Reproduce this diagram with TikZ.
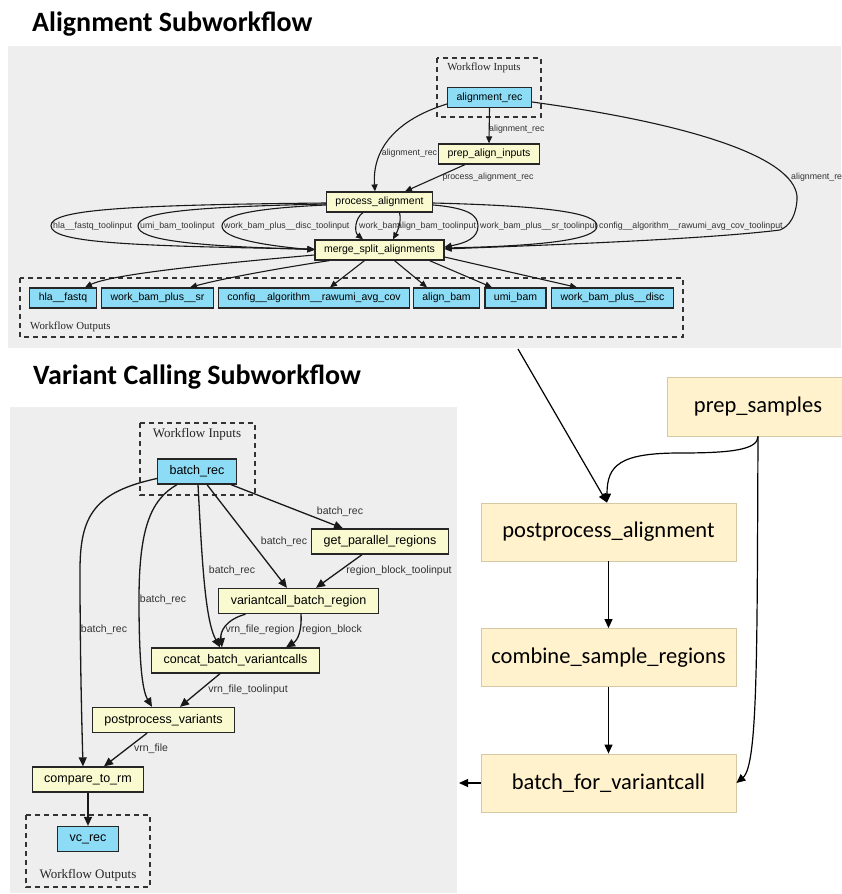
\documentclass[tikz,border=0pt]{standalone}
\usepackage{fontspec}
\usetikzlibrary{arrows.meta}
\newfontfamily\graphfont{Liberation Sans}
\newfontfamily\clusterfont{Liberation Serif}
\newfontfamily\officefont{Carlito}
\definecolor{panelgray}{RGB}{238,238,238}
\definecolor{nodeblue}{RGB}{140,220,245}
\definecolor{nodeyellow}{RGB}{250,250,208}
\definecolor{stagefill}{RGB}{255,242,204}
\definecolor{stageline}{RGB}{214,200,162}
\tikzset{
	wfnode/.style={draw=black!85, line width=1.2pt, inner ysep=0pt, font=\graphfont\fontsize{10.5}{12}\selectfont, inner xsep=9pt, minimum height=20pt},
	wfin/.style={wfnode, fill=nodeblue},
	wfstep/.style={wfnode, fill=nodeyellow},
	vcnode/.style={wfnode, font=\graphfont\fontsize{12.5}{14}\selectfont, inner xsep=12pt, minimum height=25pt, line width=1.3pt},
	vcin/.style={vcnode, fill=nodeblue},
	vcstep/.style={vcnode, fill=nodeyellow},
	cluster/.style={draw=black!80, line width=1.2pt, dash pattern=on 5pt off 4pt},
	clustertext/.style={font=\clusterfont\fontsize{10.8}{12}\selectfont, inner sep=0pt, text=black!85},
	elabel/.style={font=\graphfont\fontsize{8.8}{10}\selectfont, inner sep=0pt, text=black!80},
	vlabel/.style={font=\graphfont\fontsize{10.5}{12}\selectfont, inner sep=0pt, text=black!80},
	edge/.style={line width=1.1pt, draw=black!90, -{Triangle[length=7pt,width=6pt]}},
	vedge/.style={line width=1.3pt, draw=black!90, -{Triangle[length=9pt,width=8pt]}},
	stage/.style={draw=stageline, line width=0.8pt, fill=stagefill, minimum width=255pt, minimum height=58pt, font=\officefont\fontsize{22.5}{26}\selectfont},
	flow/.style={line width=1.2pt, -{Triangle[length=9pt,width=8pt]}},
	heading/.style={font=\officefont\bfseries\fontsize{28}{32}\selectfont, inner sep=0pt, anchor=base west}
}
\begin{document}
\begin{tikzpicture}[x=1pt, y=-1pt]
	\useasboundingbox (0,0) rectangle (841,894);
	% panels
	\fill[panelgray] (8,46) rectangle (841,348);
	\fill[panelgray] (10,407) rectangle (457,893);
	\node[heading] (titleAlign) at (32,31) {Alignment Subworkflow};
	\node[heading] (titleVc) at (33,384) {Variant Calling Subworkflow};

	% alignment subworkflow: nodes
	\draw[cluster] (437,58) rectangle (541,117);
	\draw[cluster] (20,278) rectangle (683,337);
	\node[clustertext] (alignInputs) at (484,68) {Workflow Inputs};
	\node[clustertext, anchor=west] (alignOutputs) at (30,327) {Workflow Outputs};
	\node[wfin] (ar) at (489.5,97.5) {alignment\_rec};
	\node[wfstep] (pai) at (489,154) {prep\_align\_inputs};
	\node[wfstep] (pa) at (379.5,202) {process\_alignment};
	\node[wfstep] (msa) at (379.5,250) {merge\_split\_alignments};
	\node[wfin] (ohla) at (63,298) {hla\_\_fastq};
	\node[wfin] (osr) at (157.5,298) {work\_bam\_plus\_\_sr};
	\node[wfin] (ocfg) at (314,298) {config\_\_algorithm\_\_rawumi\_avg\_cov};
	\node[wfin] (oab) at (446.5,298) {align\_bam};
	\node[wfin] (oumi) at (515.5,298) {umi\_bam};
	\node[wfin] (odisc) at (612.5,298) {work\_bam\_plus\_\_disc};

	% alignment subworkflow: edges
	\draw[edge] (ar.south) -- (pai.north);
	\draw[edge] ([yshift=-6.5pt]ar.west) .. controls (395,120) and (372,150) .. ([xshift=-4.5pt]pa.north);
	\draw[edge] ([xshift=-24pt]pai.south) -- ([xshift=25.5pt]pa.north);
	\draw[edge] ([yshift=-4.5pt]ar.east) .. controls (700,125) and (800,160) .. (797,200) .. controls (796,215) and (790,226) .. (780,230) .. controls (700,240) and (520,246) .. ([yshift=1pt]msa.east);
	\draw[edge] ([yshift=-1pt]pa.west) .. controls (120,205) and (50,210) .. (51,226) .. controls (52,242) and (120,246) .. ([yshift=1pt]msa.west);
	\draw[edge] ([yshift=-2pt]pa.west) .. controls (190,207) and (138,212) .. (138,226) .. controls (138,240) and (190,246) .. ([yshift=0.5pt]msa.west);
	\draw[edge] ([yshift=-3pt]pa.west) .. controls (260,208) and (222,214) .. (222,226) .. controls (222,238) and (260,245) .. (msa.west);
	\draw[edge] ([xshift=-16.5pt]pa.south) .. controls (355,218) and (354,232) .. ([xshift=-16.5pt]msa.north);
	\draw[edge] ([xshift=20pt]pa.south) .. controls (402,222) and (397,232) .. ([xshift=13.5pt]msa.north);
	\draw[edge] ([yshift=-3pt]pa.east) .. controls (468,208) and (478,215) .. (478,226) .. controls (478,238) and (466,243) .. ([yshift=3pt]msa.east);
	\draw[edge] ([yshift=-1pt]pa.east) .. controls (550,206) and (597,213) .. (597,226) .. controls (597,240) and (540,246) .. ([yshift=2pt]msa.east);
	\draw[edge] ([yshift=-5pt]msa.west) .. controls (200,265) and (110,275) .. ([xshift=22pt]ohla.north);
	\draw[edge] ([xshift=-50pt]msa.south) .. controls (280,268) and (220,279) .. ([xshift=32.5pt]osr.north);
	\draw[edge] ([xshift=-15pt]msa.south) -- ([xshift=16pt]ocfg.north);
	\draw[edge] ([xshift=15pt]msa.south) -- ([xshift=-19.5pt]oab.north);
	\draw[edge] ([xshift=50pt]msa.south) -- ([xshift=-23.5pt]oumi.north);
	\draw[edge] ([yshift=-7pt]msa.east) -- ([xshift=-35.5pt]odisc.north);
	% alignment subworkflow: edge labels
	\node[elabel, anchor=west] (lArPai) at (489,129) {alignment\_rec};
	\node[elabel] (lArPa) at (409.5,153) {alignment\_rec};
	\node[elabel] (lPaiPa) at (488,177) {process\_alignment\_rec};
	\node[elabel, anchor=west] (lArMsa) at (791,177) {alignment\_rec};
	\node[elabel, anchor=west] (lHla) at (53,226) {hla\_\_fastq\_toolinput};
	\node[elabel, anchor=west] (lUmi) at (140,226) {umi\_bam\_toolinput};
	\node[elabel, anchor=west] (lDisc) at (224,226) {work\_bam\_plus\_\_disc\_toolinput};
	\node[elabel, anchor=west] (lWork) at (359,226) {work\_bam};
	\node[elabel, anchor=west] (lAlign) at (397,226) {align\_bam\_toolinput};
	\node[elabel, anchor=west] (lSr) at (480,226) {work\_bam\_plus\_\_sr\_toolinput};
	\node[elabel, anchor=west] (lCfg) at (599,226) {config\_\_algorithm\_\_rawumi\_avg\_cov\_toolinput};

	% variant calling subworkflow: nodes
	\draw[cluster] (140,423) rectangle (255,495);
	\draw[cluster] (26,815) rectangle (150,887);
	\node[clustertext, font=\clusterfont\fontsize{13}{15}\selectfont] (vcInputs) at (197,434) {Workflow Inputs};
	\node[clustertext, font=\clusterfont\fontsize{13}{15}\selectfont] (vcOutputs) at (88,875) {Workflow Outputs};
	\node[vcin] (br) at (197,471.5) {batch\_rec};
	\node[vcstep] (gpr) at (380,541.5) {get\_parallel\_regions};
	\node[vcstep] (vbr) at (298.5,601) {variantcall\_batch\_region};
	\node[vcstep] (cbv) at (235.5,660.5) {concat\_batch\_variantcalls};
	\node[vcstep] (ppv) at (163.5,720) {postprocess\_variants};
	\node[vcstep] (ctr) at (88,779.5) {compare\_to\_rm};
	\node[vcin] (vcr) at (88,839) {vc\_rec};

	% variant calling subworkflow: edges
	\draw[vedge] ([xshift=34pt]br.south) -- ([xshift=-37pt]gpr.north);
	\draw[vedge] ([xshift=10pt]br.south) -- ([xshift=-11.5pt]vbr.north);
	\draw[vedge] ([xshift=1pt]br.south) .. controls (202,560) and (205,620) .. ([xshift=-15.5pt]cbv.north);
	\draw[vedge] ([xshift=-20pt]br.south) .. controls (150,500) and (139,530) .. (139,600) .. controls (139,660) and (142,690) .. ([xshift=-11.5pt]ppv.north);
	\draw[vedge] ([yshift=-7pt]br.west) .. controls (95,492) and (80,515) .. (80,570) .. controls (80,660) and (82,730) .. ([xshift=-5pt]ctr.north);
	\draw[vedge] ([xshift=-18pt]gpr.south) -- ([xshift=17.5pt]vbr.north);
	\draw[vedge] ([xshift=-53pt]vbr.south) .. controls (225,620) and (220,632) .. ([xshift=-13.5pt]cbv.north);
	\draw[vedge] ([xshift=2.5pt]vbr.south) .. controls (302,630) and (298,640) .. ([xshift=50.5pt]cbv.north);
	\draw[vedge] ([xshift=-15.5pt]cbv.south) -- ([xshift=16.5pt]ppv.north);
	\draw[vedge] ([xshift=-16.5pt]ppv.south) -- ([xshift=16pt]ctr.north);
	\draw[vedge] (ctr.south) -- (vcr.north);
	% variant calling subworkflow: edge labels
	\node[vlabel] (lBrGpr) at (340,512) {batch\_rec};
	\node[vlabel] (lBrVbr) at (284,542) {batch\_rec};
	\node[vlabel] (lBrCbv) at (232,571) {batch\_rec};
	\node[vlabel] (lBrPpv) at (163,600) {batch\_rec};
	\node[vlabel] (lBrCtr) at (104,630) {batch\_rec};
	\node[vlabel] (lGprVbr) at (399,571) {region\_block\_toolinput};
	\node[vlabel] (lVrnRegion) at (260,630) {vrn\_file\_region};
	\node[vlabel] (lRegionBlock) at (332,630) {region\_block};
	\node[vlabel] (lCbvPpv) at (248,690) {vrn\_file\_toolinput};
	\node[vlabel] (lPpvCtr) at (151,749) {vrn\_file};

	% overall workflow
	\node[stage, minimum width=182pt, minimum height=59pt] (ps) at (758,406.5) {prep\_samples};
	\node[stage] (ppa) at (608.5,532) {postprocess\_alignment};
	\node[stage] (csr) at (608.5,657.5) {combine\_sample\_regions};
	\node[stage] (bfv) at (608.5,783) {batch\_for\_variantcall};
	\coordinate (alignOut) at (518,349);
	\coordinate (vcIn) at (459,783);
	\draw[flow] (alignOut) -- ([xshift=-1.5pt]ppa.north);
	\draw[flow] (ps.south) .. controls (758,450) and (730,453) .. (680,453) .. controls (620,453) and (607,465) .. ([xshift=-1.5pt]ppa.north);
	\draw[flow] (ps.south) .. controls (757,650) and (758,765) .. (bfv.east);
	\draw[flow] (ppa.south) -- (csr.north);
	\draw[flow] (csr.south) -- (bfv.north);
	\draw[flow] (bfv.west) -- (vcIn);
\end{tikzpicture}
\end{document}
